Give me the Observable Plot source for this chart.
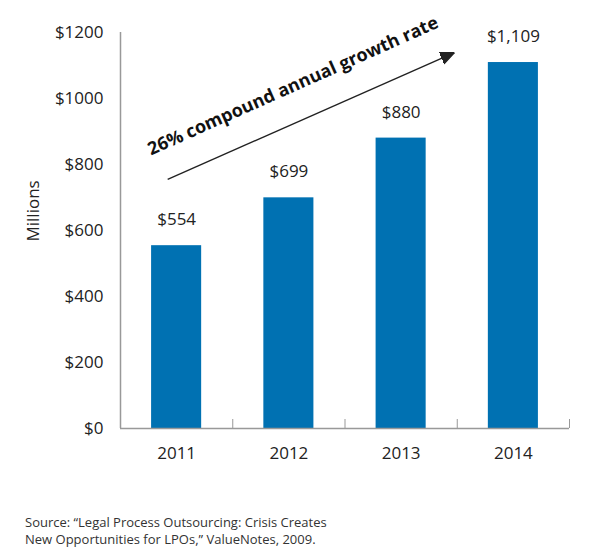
<!DOCTYPE html>
<html>
<head>
<meta charset="utf-8">
<script src="https://cdn.jsdelivr.net/npm/d3@7"></script>
<script src="https://cdn.jsdelivr.net/npm/@observablehq/plot@0.6"></script>
<style>
  html, body { margin: 0; padding: 0; background: #fff; }
  #chart { width: 595px; font-family: "Open Sans", sans-serif; }
  #caption { margin: 34px 0 0 25px; font-size: 13px; line-height: 17px; color: #333; font-family: "Open Sans", sans-serif; }
</style>
</head>
<body>
<div id="chart"></div>
<div id="caption">Source: “Legal Process Outsourcing: Crisis Creates<br>New Opportunities for LPOs,” ValueNotes, 2009.</div>
<script>
// ---- data ----
const years = [2011, 2012, 2013, 2014];
const revenue = [554, 699, 880, 1109];
const valueLabels = ["$554", "$699", "$880", "$1,109"];
const yTicks = [0, 200, 400, 600, 800, 1000, 1200];
const yAxisTitle = "Millions";
const growthNote = "26% compound annual growth rate";
// annotation arrow, in data units: [year position, $ millions]
const arrowStart = [2010.92, 755];
const arrowEnd = [2013.475, 1139];

const data = years.map((y, i) => ({year: y, value: revenue[i], label: valueLabels[i]}));
const boundaries = years.map(y => y + 0.5);
const halfBar = 0.223;
const blue = "#0071b2";
const ink = "#222";

function arrowHead(color, context) {
  const m = d3.create("svg:marker")
    .attr("viewBox", "-14 -7 14 14")
    .attr("markerWidth", 14)
    .attr("markerHeight", 14)
    .attr("markerUnits", "userSpaceOnUse")
    .attr("refX", 0)
    .attr("refY", 0)
    .attr("orient", "auto");
  m.append("path").attr("d", "M-14,-6L0,0L-14,6Z").attr("fill", color);
  return m.node();
}

const arrowData = [{x1: arrowStart[0], y1: arrowStart[1], x2: arrowEnd[0], y2: arrowEnd[1]}];
const mid = [{x: (arrowStart[0] + arrowEnd[0]) / 2, y: (arrowStart[1] + arrowEnd[1]) / 2}];

const plot = Plot.plot({
  width: 595,
  height: 480,
  marginTop: 32,
  marginBottom: 52,
  marginLeft: 120,
  marginRight: 26,
  style: {fontFamily: "Open Sans, sans-serif", fontSize: "17px", color: ink, background: "#fff"},
  x: {type: "linear", domain: [2010.5, 2014.5]},
  y: {domain: [0, 1200]},
  marks: [
    Plot.rectY(data, {x1: d => d.year - halfBar, x2: d => d.year + halfBar, y: "value", fill: blue}),
    Plot.ruleY([0], {stroke: "#999", strokeWidth: 1.5}),
    Plot.ruleX([2010.5], {stroke: "#999", strokeWidth: 1.5}),
    Plot.axisY({ticks: yTicks, tickSize: 0, tickPadding: 17, tickFormat: d => "$" + d, label: null, fontSize: 17, fill: ink}),
    Plot.axisX({ticks: years, tickSize: 0, tickPadding: 18, tickFormat: d => String(d), label: null, fontSize: 17, fill: ink}),
    Plot.axisX({ticks: boundaries, tickSize: 9, dy: -9, tickFormat: () => "", label: null, stroke: "#999"}),
    Plot.text([yAxisTitle], {frameAnchor: "left", rotate: -90, dx: -87, dy: 11, fontSize: 17, fill: ink}),
    Plot.text(data, {x: "year", y: "value", text: "label", dy: -26, fontSize: 17, fill: ink}),
    Plot.link(arrowData, {x1: "x1", y1: "y1", x2: "x2", y2: "y2", stroke: ink, strokeWidth: 1.4, markerEnd: arrowHead}),
    Plot.text(mid, {x: "x", y: "y", text: () => growthNote, rotate: -24, dx: -18, dy: -30, fontSize: 18, fontWeight: "bold", fill: "#111"})
  ]
});
document.getElementById("chart").appendChild(plot);
</script>
</body>
</html>
